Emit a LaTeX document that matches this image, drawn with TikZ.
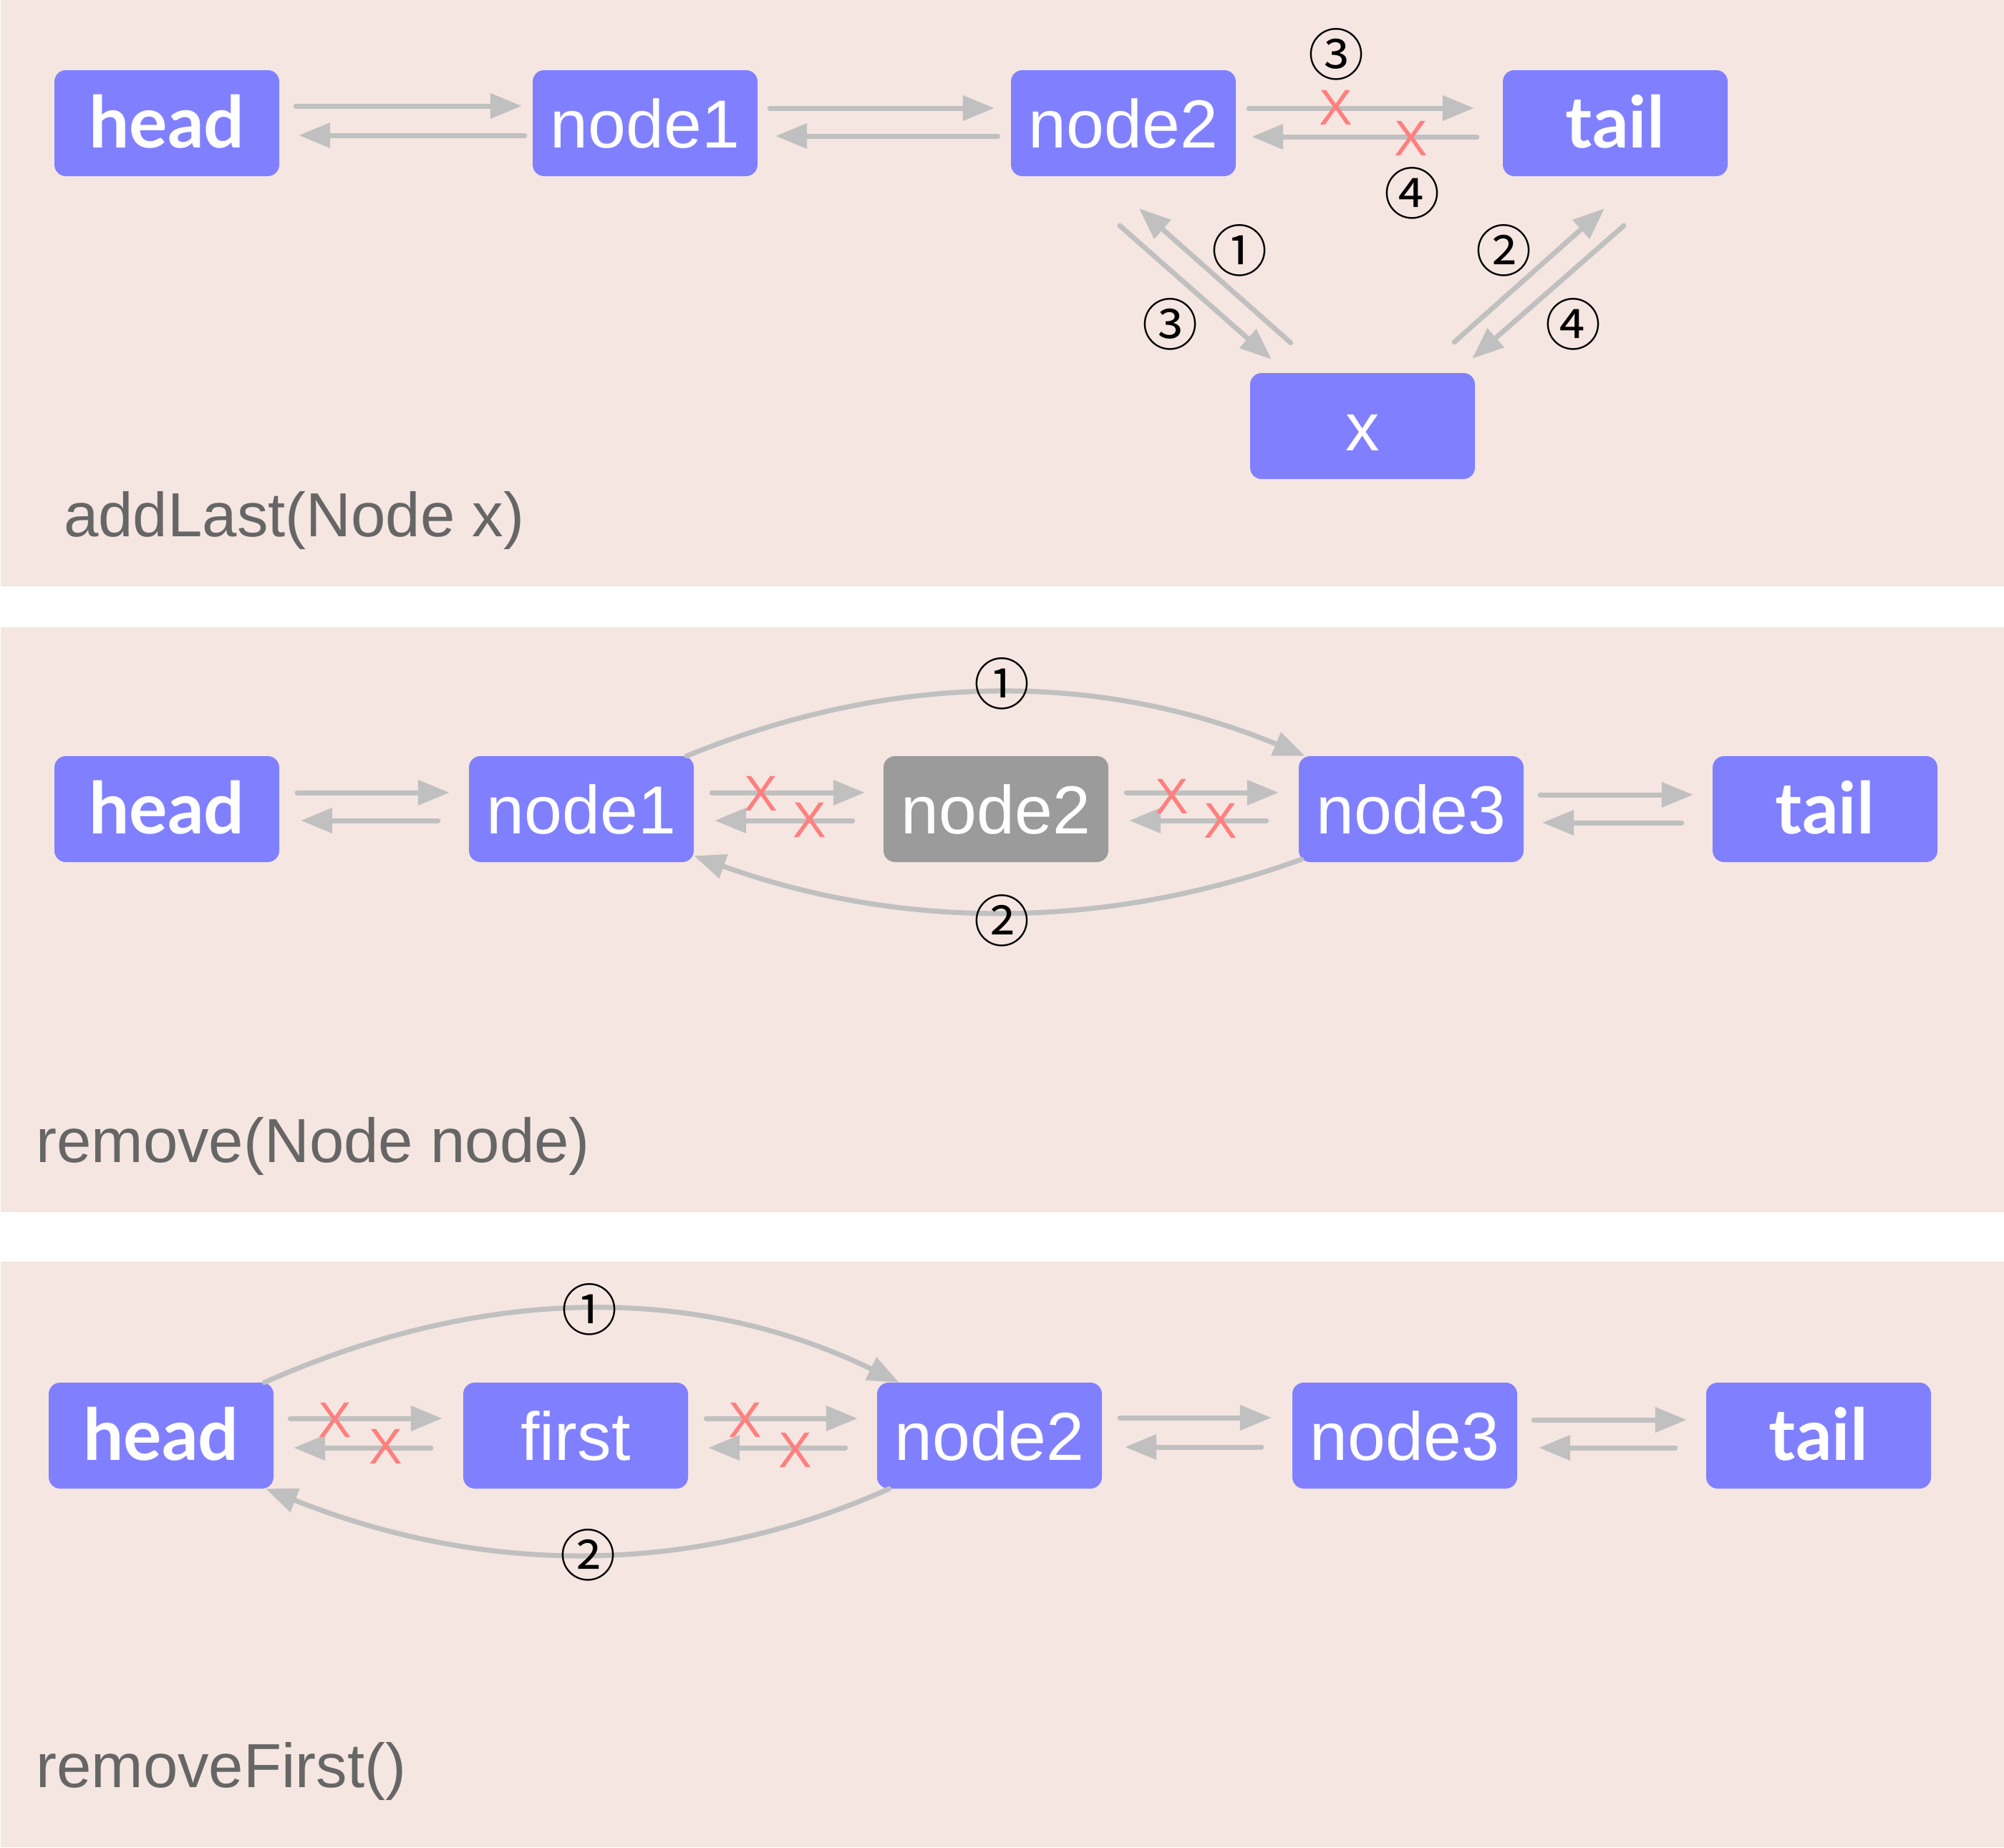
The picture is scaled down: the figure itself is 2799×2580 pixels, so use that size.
\documentclass[tikz,border=0pt]{standalone}
\usepackage{fontspec}
\setmainfont{Liberation Sans}
\newfontfamily\headfont{Lato}
\newfontfamily\circfont{Noto Sans CJK SC}
\usetikzlibrary{arrows.meta}
\definecolor{bgpink}{HTML}{F5E6E2}
\definecolor{nodeblue}{HTML}{8080FF}
\definecolor{nodegray}{HTML}{9B9B9B}
\definecolor{arrgray}{HTML}{C0C0C0}
\definecolor{crossred}{HTML}{FF7F7F}
\definecolor{labelgray}{HTML}{666666}
\begin{document}
\begin{tikzpicture}[x=1pt,y=-1pt,
  box/.style={rectangle, rounded corners=16pt, fill=nodeblue, minimum width=314pt, minimum height=148pt,
    inner sep=0pt, text=white, font=\fontsize{95}{95}\selectfont, text height=68pt, text depth=0pt},
  boldbox/.style={box, font=\headfont\bfseries\fontsize{100}{100}\selectfont},
  graybox/.style={box, fill=nodegray},
  arr/.style={draw=arrgray, line width=7pt, line cap=round, -{Triangle[length=44pt,width=34pt]}},
  circnum/.style={font=\circfont\fontsize{78}{78}\selectfont, inner sep=0pt, text=black},
  cross/.style={font=\fontsize{70}{70}\selectfont, text=crossred, inner sep=0pt},
  caption/.style={anchor=base west, inner sep=0pt, text=labelgray, font=\fontsize{87}{87}\selectfont}
]
\fill[white] (0,0) rectangle (2799,2580);
\useasboundingbox (0,0) rectangle (2799,2580);
\fill[bgpink] (1,0) rectangle (2799,819);
\fill[bgpink] (1,876) rectangle (2799,1693);
\fill[bgpink] (1,1762) rectangle (2799,2580);

% ---------- Panel 1: addLast ----------
\node[boldbox] (p1head) at (233,172) {head};
\node[box] (p1n1) at (901,172) {node1};
\node[box] (p1n2) at (1569,172) {node2};
\node[boldbox] (p1tail) at (2256,172) {tail};
\node[box] (p1x) at (1903,595) {x};

\draw[arr, shorten <=23pt, shorten >=15pt] ([yshift=24pt]p1head.east) -- ([yshift=24pt]p1n1.west);
\draw[arr, shorten <=11pt, shorten >=27pt] ([yshift=-17pt]p1n1.west) -- ([yshift=-17pt]p1head.east);
\draw[arr, shorten <=17pt, shorten >=23pt] ([yshift=21pt]p1n1.east) -- ([yshift=21pt]p1n2.west);
\draw[arr, shorten <=18pt, shorten >=25pt] ([yshift=-18pt]p1n2.west) -- ([yshift=-18pt]p1n1.east);
\draw[arr, shorten <=18pt, shorten >=40pt] ([yshift=21pt]p1n2.east) -- ([yshift=21pt]p1tail.west);
\draw[arr, shorten <=36pt, shorten >=22pt] ([yshift=-19pt]p1tail.west) -- ([yshift=-19pt]p1n2.east);

\draw[arr] ([xshift=-5pt,yshift=-69pt]p1n2.south) -- ([xshift=30pt,yshift=19pt]p1x.north west);
\draw[arr] ([xshift=57pt,yshift=42pt]p1x.north west) -- ([xshift=22pt,yshift=-45pt]p1n2.south);
\draw[arr] ([xshift=-29pt,yshift=43pt]p1x.north east) -- ([xshift=-15pt,yshift=-45pt]p1tail.south);
\draw[arr] ([xshift=12pt,yshift=-69pt]p1tail.south) -- ([xshift=-4pt,yshift=20pt]p1x.north east);

\node[cross] (p1xa) at (1866,150) {X};
\node[cross] (p1xb) at (1971,193) {X};
\node[circnum] (p1c3a) at (1866,76) {③};
\node[circnum] (p1c4a) at (1972,270) {④};
\node[circnum] (p1c1) at (1731,350) {①};
\node[circnum] (p1c3b) at (1634,453) {③};
\node[circnum] (p1c2) at (2100,350) {②};
\node[circnum] (p1c4b) at (2197,453) {④};

\node[caption] (p1cap) at (89,749) {addLast(Node x)};

% ---------- Panel 2: remove ----------
\node[boldbox] (p2head) at (233,1130) {head};
\node[box] (p2n1) at (812,1130) {node1};
\node[graybox] (p2n2) at (1391,1130) {node2};
\node[box] (p2n3) at (1971,1130) {node3};
\node[boldbox] (p2tail) at (2549,1130) {tail};

\draw[arr, shorten <=25pt, shorten >=27pt] ([yshift=23pt]p2head.east) -- ([yshift=23pt]p2n1.west);
\draw[arr, shorten <=43pt, shorten >=30pt] ([yshift=-16pt]p2n1.west) -- ([yshift=-16pt]p2head.east);
\draw[arr, shorten <=25pt, shorten >=26pt] ([yshift=23pt]p2n1.east) -- ([yshift=23pt]p2n2.west);
\draw[arr, shorten <=43pt, shorten >=29pt] ([yshift=-16pt]p2n2.west) -- ([yshift=-16pt]p2n1.east);
\draw[arr, shorten <=25pt, shorten >=28pt] ([yshift=23pt]p2n2.east) -- ([yshift=23pt]p2n3.west);
\draw[arr, shorten <=45pt, shorten >=29pt] ([yshift=-16pt]p2n3.west) -- ([yshift=-16pt]p2n2.east);
\draw[arr, shorten <=23pt, shorten >=27pt] ([yshift=20pt]p2n3.east) -- ([yshift=20pt]p2tail.west);
\draw[arr, shorten <=43pt, shorten >=26pt] ([yshift=-19pt]p2tail.west) -- ([yshift=-19pt]p2n3.east);

\draw[arr] ([xshift=-10pt]p2n1.north east) .. controls (1247,938) and (1535,937) .. ([xshift=9pt]p2n3.north west);
\draw[arr] ([xshift=4pt,yshift=4pt]p2n3.south west) .. controls (1542,1300) and (1259,1299) .. ([yshift=9pt]p2n1.south east);

\node[cross] (p2xa) at (1063,1108) {X};
\node[cross] (p2xb) at (1131,1145) {X};
\node[cross] (p2xc) at (1637,1112) {X};
\node[cross] (p2xd) at (1705,1146) {X};
\node[circnum] (p2c1) at (1399,955) {①};
\node[circnum] (p2c2) at (1399,1286) {②};

\node[caption] (p2cap) at (50,1623) {remove(Node node)};

% ---------- Panel 3: removeFirst ----------
\node[boldbox] (p3head) at (225,2005) {head};
\node[box] (p3first) at (804,2005) {first};
\node[box] (p3n2) at (1382,2005) {node2};
\node[box] (p3n3) at (1962,2005) {node3};
\node[boldbox] (p3tail) at (2540,2005) {tail};

\draw[arr, shorten <=23pt, shorten >=29pt] ([yshift=24pt]p3head.east) -- ([yshift=24pt]p3first.west);
\draw[arr, shorten <=45pt, shorten >=28pt] ([yshift=-17pt]p3first.west) -- ([yshift=-17pt]p3head.east);
\draw[arr, shorten <=25pt, shorten >=27pt] ([yshift=24pt]p3first.east) -- ([yshift=24pt]p3n2.west);
\draw[arr, shorten <=44pt, shorten >=28pt] ([yshift=-17pt]p3n2.west) -- ([yshift=-17pt]p3first.east);
\draw[arr, shorten <=25pt, shorten >=29pt] ([yshift=25pt]p3n2.east) -- ([yshift=25pt]p3n3.west);
\draw[arr, shorten <=43pt, shorten >=32pt] ([yshift=-16pt]p3n3.west) -- ([yshift=-16pt]p3n2.east);
\draw[arr, shorten <=23pt, shorten >=27pt] ([yshift=22pt]p3n3.east) -- ([yshift=22pt]p3tail.west);
\draw[arr, shorten <=43pt, shorten >=30pt] ([yshift=-17pt]p3tail.west) -- ([yshift=-17pt]p3n3.east);

\draw[arr] ([xshift=-13pt]p3head.north east) .. controls (678,1794) and (974,1794) .. ([xshift=31pt]p3n2.north west);
\draw[arr] ([xshift=17pt]p3n2.south west) .. controls (971,2201) and (680,2202) .. ([xshift=-11pt]p3head.south east);

\node[cross] (p3xa) at (468,1983) {X};
\node[cross] (p3xb) at (539,2020) {X};
\node[cross] (p3xc) at (1041,1983) {X};
\node[cross] (p3xd) at (1111,2025) {X};
\node[circnum] (p3c1) at (823,1829) {①};
\node[circnum] (p3c2) at (821,2172) {②};

\node[caption] (p3cap) at (50,2496) {removeFirst()};
\end{tikzpicture}
\end{document}
